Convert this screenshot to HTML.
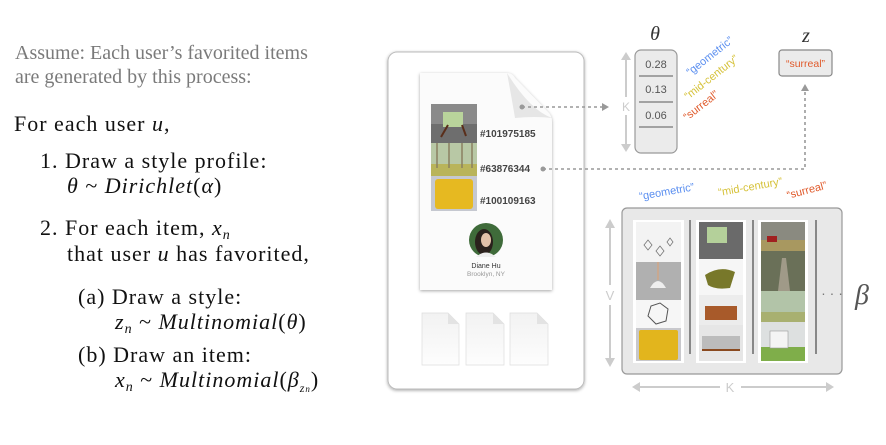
<!DOCTYPE html>
<html><head><meta charset="utf-8"><style>
body{margin:0;background:#fff;width:886px;height:445px;overflow:hidden}
svg{display:block}
.s{font-family:"Liberation Serif",serif}
.a{font-family:"Liberation Sans",sans-serif}
</style></head><body>
<svg width="886" height="445" viewBox="0 0 886 445" xmlns="http://www.w3.org/2000/svg">
<defs>
<filter id="sh" x="-10%" y="-10%" width="120%" height="120%"><feDropShadow dx="0" dy="1" stdDeviation="1.5" flood-color="#000" flood-opacity="0.35"/></filter>
<linearGradient id="dg" x1="0" y1="0" x2="0" y2="1"><stop offset="0" stop-color="#f2f2f2"/><stop offset="1" stop-color="#fdfdfd"/></linearGradient>
</defs>
<!-- left text -->
<g class="s" fill="#7a7a7a" font-size="20">
<text x="15" y="59">Assume: Each user’s favorited items</text>
<text x="15" y="83">are generated by this process:</text>
</g>
<g class="s" fill="#111" font-size="22" letter-spacing="1">
<text x="14" y="131">For each user <tspan font-style="italic">u</tspan>,</text>
<text x="40" y="168">1. Draw a style profile:</text>
<text x="67" y="193"><tspan font-style="italic">θ</tspan> ~ <tspan font-style="italic">Dirichlet</tspan>(<tspan font-style="italic">α</tspan>)</text>
<text x="40" y="235">2. For each item, <tspan font-style="italic">x<tspan font-size="14" dy="4">n</tspan></tspan></text>
<text x="67" y="261">that user <tspan font-style="italic">u</tspan> has favorited,</text>
<text x="78" y="304">(a) Draw a style:</text>
<text x="115" y="329"><tspan font-style="italic">z<tspan font-size="14" dy="4">n</tspan></tspan><tspan dy="-4"> ~ </tspan><tspan font-style="italic">Multinomial</tspan>(<tspan font-style="italic">θ</tspan>)</text>
<text x="78" y="362">(b) Draw an item:</text>
<text x="115" y="387"><tspan font-style="italic">x<tspan font-size="14" dy="4">n</tspan></tspan><tspan dy="-4"> ~ </tspan><tspan font-style="italic">Multinomial</tspan>(<tspan font-style="italic">β<tspan font-size="12" dy="5">z<tspan font-size="9">n</tspan></tspan></tspan><tspan dy="-5">)</tspan></text>
</g>
<!-- phone -->
<rect x="388" y="52" width="196" height="337" rx="9" fill="#fff" stroke="#bbb" stroke-width="1" filter="url(#sh)"/>
<path d="M420 73 H507 Q512 73 515 78 L548 112 Q552 116 552 122 V290 H420 Z" fill="#fbfbfb" filter="url(#sh)"/>
<path d="M507 73 Q512 100 515 118 Q535 116 552 118 Q530 110 507 73 Z" fill="#e6e6e6"/>
<rect x="431" y="104" width="46" height="39" fill="#6e6e6e"/>
<rect x="431" y="104" width="46" height="20" fill="#8a8a8a"/>
<rect x="443" y="112" width="20" height="15" fill="#b9d49b"/>
<line x1="441" y1="137" x2="448" y2="125" stroke="#5a2e1a" stroke-width="2"/>
<line x1="466" y1="136" x2="462" y2="125" stroke="#5a2e1a" stroke-width="2"/>
<rect x="431" y="143" width="46" height="33" fill="#b8c8a5"/>
<rect x="431" y="164" width="46" height="12" fill="#b9b45a"/>
<g stroke="#8a8060" stroke-width="1.5"><line x1="437" y1="143" x2="437" y2="168"/><line x1="449" y1="143" x2="449" y2="168"/><line x1="462" y1="143" x2="462" y2="168"/><line x1="472" y1="143" x2="472" y2="168"/></g>
<rect x="431" y="176" width="46" height="35" fill="#c5c8d0"/>
<rect x="435" y="179" width="38" height="30" rx="3" fill="#e6b921"/>
<g class="a" font-size="10" font-weight="bold" fill="#444">
<text x="480" y="137">#101975185</text>
<text x="480" y="172">#63876344</text>
<text x="480" y="204">#100109163</text>
</g>
<circle cx="486" cy="240" r="17" fill="#3f6b3a"/>
<ellipse cx="484" cy="242" rx="9" ry="13" fill="#2a211c"/>
<ellipse cx="486" cy="240" rx="5" ry="7" fill="#e2c1a8"/>
<path d="M476 257 Q486 248 496 257 Z" fill="#eee"/>
<text class="a" x="486" y="268" font-size="7" fill="#333" text-anchor="middle">Diane Hu</text>
<text class="a" x="486" y="276" font-size="6.5" fill="#999" text-anchor="middle">Brooklyn, NY</text>
<g fill="url(#dg)" stroke="#ddd" stroke-width="0.7">
<path d="M422 313 H448 L459 324 V365 H422 Z"/>
<path d="M466 313 H493 L504 324 V365 H466 Z"/>
<path d="M510 313 H537 L548 324 V365 H510 Z"/>
</g>
<g fill="#e3e3e3"><path d="M448 313 V324 H459 Z"/><path d="M493 313 V324 H504 Z"/><path d="M537 313 V324 H548 Z"/></g>
<!-- connectors -->
<g stroke="#999" stroke-width="1.6" stroke-dasharray="3,3" fill="none">
<line x1="522" y1="107" x2="603" y2="107"/>
<polyline points="543,169 805,169 805,90"/>
</g>
<circle cx="522" cy="107" r="2.5" fill="#999"/>
<circle cx="543" cy="169" r="2.5" fill="#999"/>
<path d="M602 103 L609 107 L602 111 Z" fill="#999"/>
<path d="M801 91 L805 84 L809 91 Z" fill="#999"/>
<!-- theta -->
<text class="s" x="655" y="40" font-size="20" font-style="italic" text-anchor="middle" fill="#333">θ</text>
<rect x="635" y="50" width="42" height="103" rx="6" fill="#ebebeb" stroke="#999" stroke-width="1.2"/>
<g stroke="#777" stroke-width="1.2"><line x1="639" y1="76" x2="673" y2="76"/><line x1="639" y1="102" x2="673" y2="102"/><line x1="639" y1="127" x2="673" y2="127"/></g>
<g class="a" font-size="11" fill="#555" text-anchor="middle">
<text x="656" y="68">0.28</text><text x="656" y="93">0.13</text><text x="656" y="119">0.06</text>
</g>
<g stroke="#ccc" stroke-width="2"><line x1="626" y1="58" x2="626" y2="97"/><line x1="626" y1="115" x2="626" y2="146"/></g>
<path d="M621 60 L626 52 L631 60 Z M621 144 L626 152 L631 144 Z" fill="#ccc"/>
<text class="a" x="626" y="111" font-size="12" fill="#ccc" text-anchor="middle">K</text>
<g class="a" font-size="11">
<text transform="translate(690,76) rotate(-38)" fill="#5b8ff0">“geometric”</text>
<text transform="translate(688,100) rotate(-38)" fill="#d6c23a">“mid-century”</text>
<text transform="translate(687,121) rotate(-38)" fill="#e05a2b">“surreal”</text>
</g>
<!-- z -->
<text class="s" x="806" y="42" font-size="20" font-style="italic" text-anchor="middle" fill="#333">z</text>
<rect x="779" y="50" width="53" height="26" rx="3" fill="#ebebeb" stroke="#888" stroke-width="1.2"/>
<text class="a" x="805.5" y="67" font-size="10.5" fill="#e05a2b" text-anchor="middle">“surreal”</text>
<!-- beta -->
<g class="a" font-size="11">
<text transform="translate(640,200) rotate(-10)" fill="#5b8ff0">“geometric”</text>
<text transform="translate(719,196) rotate(-10)" fill="#d6c23a">“mid-century”</text>
<text transform="translate(788,199) rotate(-15)" fill="#e05a2b">“surreal”</text>
</g>
<rect x="622" y="208" width="220" height="166" rx="5" fill="#e8e8e8" stroke="#999" stroke-width="1.2"/>
<rect x="633" y="220" width="51" height="143" fill="#fff"/>
<rect x="696" y="220" width="50" height="143" fill="#fff"/>
<rect x="758" y="220" width="50" height="143" fill="#fff"/>
<g stroke="#888" stroke-width="2"><line x1="690" y1="220" x2="690" y2="354"/><line x1="753" y1="220" x2="753" y2="354"/><line x1="816" y1="220" x2="816" y2="354"/></g>
<rect x="636" y="222" width="45" height="40" fill="#f3f3f3"/>
<g stroke="#777" fill="none" stroke-width="0.8"><path d="M648 240 l4 5 l-4 5 l-4 -5 z M660 246 l4 5 l-4 5 l-4 -5z M670 238 l3 4 l-3 4 l-3 -4z"/></g>
<rect x="636" y="262" width="45" height="38" fill="#b0b0b0"/>
<line x1="658" y1="262" x2="658" y2="280" stroke="#e0a070"/>
<path d="M650 288 Q658 274 666 288 Z" fill="#eee"/>
<rect x="636" y="300" width="45" height="28" fill="#f6f6f6"/>
<path d="M660 303 l8 6 l-2 12 l-10 3 l-8 -8 l3 -10 z" fill="none" stroke="#555" stroke-width="1"/>
<rect x="636" y="328" width="45" height="33" fill="#c8c8cc"/>
<rect x="639" y="330" width="39" height="30" rx="2" fill="#e2b51d"/>
<rect x="699" y="222" width="44" height="37" fill="#6a6a6a"/>
<rect x="707" y="227" width="20" height="16" fill="#b4d09a"/>
<rect x="699" y="259" width="44" height="36" fill="#f6f6f6"/>
<path d="M705 275 Q720 265 735 272 L730 288 Q715 290 708 285 Z" fill="#78782a"/>
<rect x="699" y="295" width="44" height="30" fill="#ececec"/>
<rect x="705" y="306" width="32" height="14" fill="#a85a2a"/>
<rect x="699" y="325" width="44" height="36" fill="#e6e6e6"/>
<rect x="702" y="336" width="38" height="14" fill="#bcbcbc"/>
<line x1="702" y1="350" x2="740" y2="350" stroke="#8a4a20" stroke-width="2"/>
<rect x="761" y="222" width="44" height="29" fill="#8a8a80"/>
<rect x="761" y="240" width="44" height="11" fill="#a89860"/>
<rect x="767" y="236" width="10" height="6" fill="#a02020"/>
<rect x="761" y="251" width="44" height="40" fill="#6a7058"/>
<path d="M778 291 L782 258 L786 258 L790 291 Z" fill="#a09a88"/>
<rect x="761" y="291" width="44" height="31" fill="#b2c4a8"/>
<rect x="761" y="312" width="44" height="10" fill="#a8b070"/>
<rect x="761" y="322" width="44" height="39" fill="#dde0e0"/>
<rect x="761" y="347" width="44" height="14" fill="#7fae4a"/>
<rect x="770" y="331" width="18" height="17" fill="#f4f4f4" stroke="#999" stroke-width="0.6"/>
<text class="a" x="832" y="298" font-size="14" fill="#777" text-anchor="middle">· · ·</text>
<text class="s" x="862" y="304" font-size="28" font-style="italic" fill="#555" text-anchor="middle">β</text>
<g stroke="#ccc" stroke-width="2"><line x1="610" y1="226" x2="610" y2="285"/><line x1="610" y1="305" x2="610" y2="360"/></g>
<path d="M605 228 L610 219 L615 228 Z M605 358 L610 367 L615 358 Z" fill="#ccc"/>
<text class="a" x="610" y="300" font-size="13" fill="#ccc" text-anchor="middle">V</text>
<g stroke="#ccc" stroke-width="2"><line x1="638" y1="387" x2="720" y2="387"/><line x1="741" y1="387" x2="828" y2="387"/></g>
<path d="M640 382 L632 387 L640 392 Z M826 382 L834 387 L826 392 Z" fill="#ccc"/>
<text class="a" x="730" y="392" font-size="13" fill="#ccc" text-anchor="middle">K</text>
</svg>
</body></html>
